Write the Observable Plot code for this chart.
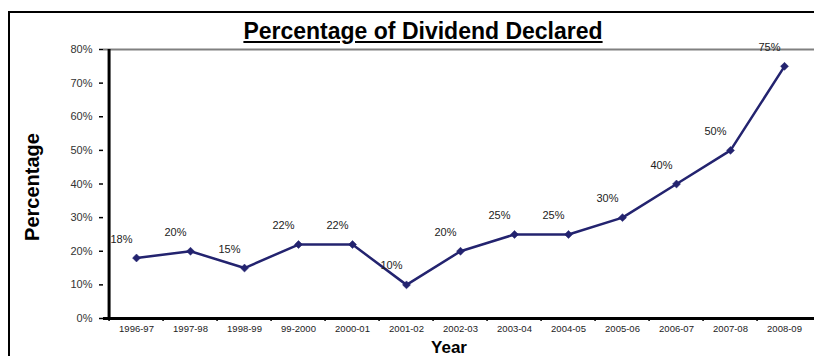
<!DOCTYPE html>
<html><head><meta charset="utf-8">
<script src="https://cdn.jsdelivr.net/npm/d3@7"></script>
<script src="https://cdn.jsdelivr.net/npm/@observablehq/plot@0.6"></script>
<style>
html,body{margin:0;padding:0;background:#fff;overflow:hidden;width:814px;height:356px}
#wrap{position:relative;width:814px;height:356px;overflow:hidden}
#border{position:absolute;left:8px;top:11px;width:900px;height:500px;border:2px solid #000;box-sizing:border-box;pointer-events:none}
#title{position:absolute;left:0;width:846px;top:18px;line-height:26px;text-align:center;font:bold 23px "Liberation Sans",Arial,sans-serif;text-decoration:underline;color:#000}
#chart{position:absolute;left:0;top:0}
</style></head><body>
<div id="wrap"><div id="chart"></div><div id="border"></div><div id="title">Percentage of Dividend Declared</div></div>
<script>
const years = ["1996-97","1997-98","1998-99","99-2000","2000-01","2001-02","2002-03","2003-04","2004-05","2005-06","2006-07","2007-08","2008-09"];
const dividend = [18,20,15,22,22,10,20,25,25,30,40,50,75];
const yTicks = [0,10,20,30,40,50,60,70,80];
const data = years.map((y,i)=>({year:y, value:dividend[i]}));

const left = 103, right = 816;
const step = (right-left)/years.length;
const navy = "#23236f";
const font = "'Liberation Sans', Arial, sans-serif";

const chart = Plot.plot({
  width: 814, height: 356,
  marginLeft: left, marginRight: 0, marginTop: 49, marginBottom: 38,
  style: {fontFamily: font, background: "transparent", overflow: "visible"},
  x: {type: "point", domain: years, range: [left, right], padding: 0.5, axis: null},
  y: {domain: [0, 80], axis: null},
  marks: [
    Plot.ruleY([80], {stroke: "#808080", strokeWidth: 2}),
    Plot.axisY({ticks: yTicks, tickFormat: d => d + "%", tickSize: 4, tickPadding: 7, fontSize: 11, color: "#333", stroke: "#000", strokeWidth: 1.5, label: null}),
    Plot.axisX({tickSize: 0, tickPadding: 7, fontSize: 9.5, color: "#222", label: null}),
    Plot.axisX({tickSize: 3, tickFormat: () => "", dx: -step/2, stroke: "#000", strokeWidth: 1.5, label: null}),
    Plot.ruleY([0], {stroke: "#000", strokeWidth: 3}),
    Plot.ruleX([years[0]], {y1: 0, y2: 80, dx: -step/2, stroke: "#000", strokeWidth: 3}),
    Plot.line(data, {x: "year", y: "value", stroke: navy, strokeWidth: 2.5}),
    Plot.dot(data, {x: "year", y: "value", symbol: "diamond2", r: 3.6, fill: navy, stroke: navy, strokeWidth: 0.5}),
    Plot.text(data, {x: "year", y: "value", text: d => d.value + "%", dx: -15, dy: -19, fontSize: 11, fill: "#222"}),
    Plot.text(["Percentage"], {frameAnchor: "left", textAnchor: "middle", lineAnchor: "middle", dx: -71, dy: 3, rotate: -90, fontSize: 20, fontWeight: "bold", fill: "#000"}),
    Plot.text(["Year"], {frameAnchor: "bottom", textAnchor: "middle", lineAnchor: "middle", dx: -10, dy: 29, fontSize: 17, fontWeight: "bold", fill: "#000"})
  ]
});
document.getElementById("chart").appendChild(chart);
</script>
</body></html>
